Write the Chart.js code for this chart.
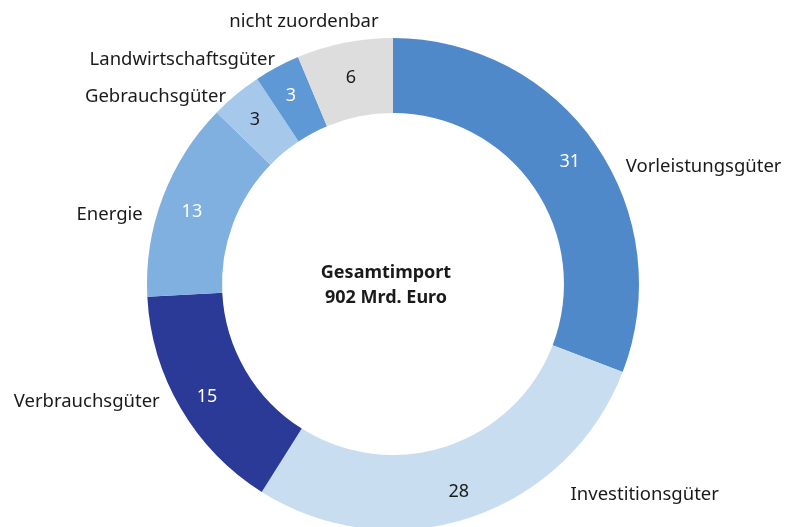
<!DOCTYPE html>
<html>
<head>
<meta charset="utf-8">
<script src="https://cdn.jsdelivr.net/npm/chart.js@4.4.1/dist/chart.umd.min.js"></script>
<style>
  html, body { margin: 0; padding: 0; background: #fff; overflow: hidden; }
  #wrap { width: 788px; height: 568px; }
</style>
</head>
<body>
<div id="wrap"><canvas id="donut" width="788" height="568"></canvas></div>
<script>
const categories = ['Vorleistungsgüter', 'Investitionsgüter', 'Verbrauchsgüter', 'Energie',
                    'Gebrauchsgüter', 'Landwirtschaftsgüter', 'nicht zuordenbar'];
const shares = [30.8, 28.1, 15.2, 13.1, 3.4, 3.0, 6.3];
const centerLines = ['Gesamtimport', '902 Mrd. Euro'];

// Styling
const colors = ['#5089c9', '#c9ddf1', '#2b3a97', '#7fb0e0', '#a6c8eb', '#5e99d6', '#dddddd'];
const valueColors = ['#fff', '#1a1a1a', '#fff', '#fff', '#1a1a1a', '#fff', '#1a1a1a'];
// label tweaks relative to the arc's outer edge / mid ring
const labelSide = ['left', 'left', 'right', 'right', 'right', 'right', 'right'];
const labelShift = [[30, 22], [100, -23], [-21, -7], [-20, 17], [-10, 2], [-2, -7], [34, -21]];
const valueShift = [[5, -4], [0, 10], [-6, 7], [-6, 1], [-5, -4], [-4, -4], [-1, -2]];
const FONT = '"Noto Sans", "Open Sans", sans-serif';
const TEXT = '#1a1a1a';

const labelPlugin = {
    id: 'labels',
    afterDatasetsDraw(chart) {
        const ctx = chart.ctx;
        const meta = chart.getDatasetMeta(0);
        ctx.save();
        ctx.textBaseline = 'middle';
        meta.data.forEach((arc, i) => {
            const p = arc.getProps(['x', 'y', 'startAngle', 'endAngle', 'innerRadius', 'outerRadius'], true);
            const mid = (p.startAngle + p.endAngle) / 2;
            const rMid = (p.innerRadius + p.outerRadius) / 2;

            // value inside the ring
            ctx.font = '18px ' + FONT;
            ctx.textAlign = 'center';
            ctx.fillStyle = valueColors[i];
            ctx.fillText(Math.round(shares[i]),
                p.x + Math.cos(mid) * rMid + valueShift[i][0],
                p.y + Math.sin(mid) * rMid + valueShift[i][1]);

            // category name outside
            ctx.font = '18.5px ' + FONT;
            ctx.fillStyle = TEXT;
            ctx.textAlign = labelSide[i];
            ctx.fillText(categories[i],
                p.x + Math.cos(mid) * p.outerRadius + labelShift[i][0],
                p.y + Math.sin(mid) * p.outerRadius + labelShift[i][1]);
        });

        // center text
        const first = meta.data[0];
        ctx.font = 'bold 18px ' + FONT;
        ctx.textAlign = 'center';
        ctx.fillStyle = TEXT;
        ctx.fillText(centerLines[0], first.x - 7, first.y - 11);
        ctx.fillText(centerLines[1], first.x - 7, first.y + 14);
        ctx.restore();
    }
};

new Chart(document.getElementById('donut'), {
    type: 'doughnut',
    data: {
        labels: categories,
        datasets: [{
            data: shares,
            backgroundColor: colors,
            borderWidth: 0
        }]
    },
    options: {
        responsive: false,
        animation: false,
        devicePixelRatio: 1,
        cutout: '69.5%',
        layout: { padding: { left: 147, right: 149, top: 38, bottom: 38 } },
        plugins: {
            legend: { display: false },
            tooltip: { enabled: false }
        }
    },
    plugins: [labelPlugin]
});
</script>
</body>
</html>
